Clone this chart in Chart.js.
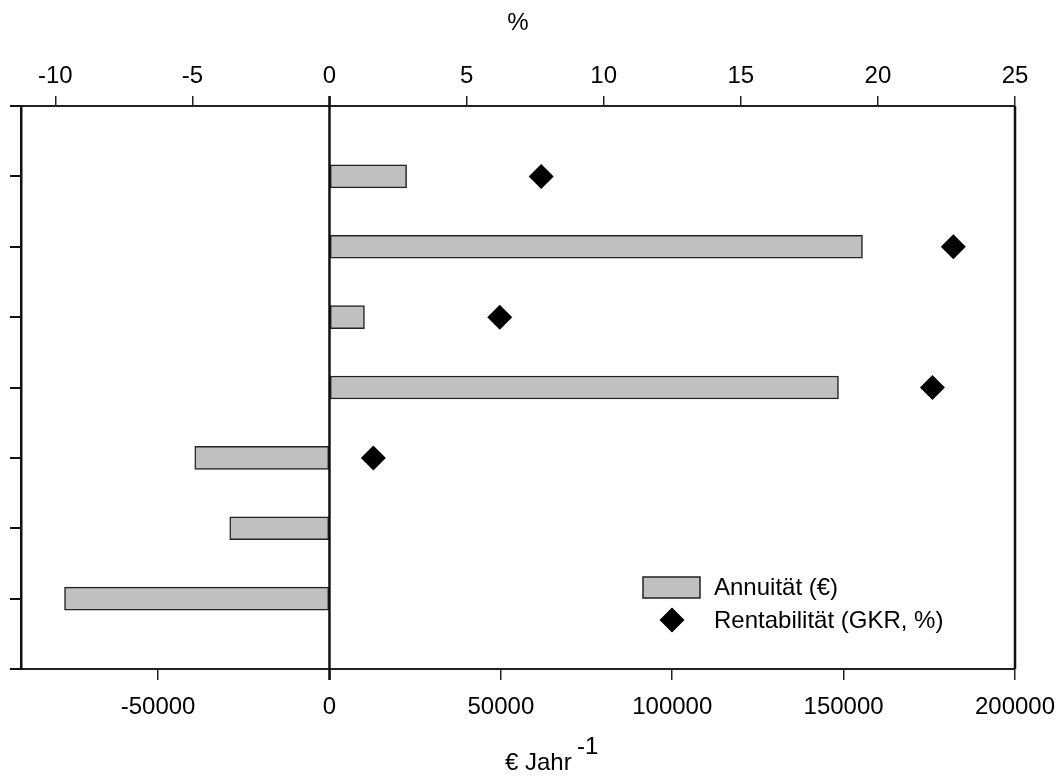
<!DOCTYPE html>
<html>
<head>
<meta charset="utf-8">
<script src="https://cdn.jsdelivr.net/npm/chart.js@4/dist/chart.umd.min.js"></script>
<style>
html,body{margin:0;padding:0;background:#fff}
#wrap{width:1058px;height:776px}
</style>
</head>
<body>
<div id="wrap"><canvas id="c"></canvas></div>
<script>
// rows from top (1) to bottom (7)
const rows=[1,2,3,4,5,6,7]
const annuity=[22500,155500,10200,148500,-39300,-29100,-77300]
const rentRows=[1,2,3,4,5]
const rentability=[7.72,22.75,6.21,21.99,1.6]
const eurTicks=[-50000,0,50000,100000,150000,200000]
const pctTicks=[-10,-5,0,5,10,15,20,25]
const rowTicks=[0,1,2,3,4,5,6,7,8]

const FONT="'Liberation Sans', Arial, sans-serif"
const tickFont={family:FONT,size:24}

const extras={
  id:"extras",
  afterDraw(ch){
    const c=ch.ctx,a=ch.chartArea,x=ch.scales.x
    c.save()
    // right frame + zero line
    c.strokeStyle="#111";c.lineWidth=2.5
    c.beginPath();c.moveTo(a.right,a.top);c.lineTo(a.right,a.bottom);c.stroke()
    const z=x.getPixelForValue(0)
    c.beginPath();c.moveTo(z,a.top-10);c.lineTo(z,a.bottom+11);c.stroke()
    // legend
    const d0=ch.data.datasets[0],d1=ch.data.datasets[1]
    c.fillStyle=d0.backgroundColor;c.fillRect(643,577,57,21)
    c.strokeStyle=d0.borderColor;c.lineWidth=1.5;c.strokeRect(643,577,57,21)
    c.fillStyle=d1.backgroundColor
    c.beginPath();c.moveTo(672-12.5,620);c.lineTo(672,620-12.5);c.lineTo(672+12.5,620);c.lineTo(672,620+12.5);c.closePath();c.fill()
    c.fillStyle="#000";c.font="24px "+FONT;c.textBaseline="middle";c.textAlign="left"
    c.fillText(d0.label,714,588)
    c.fillText(d1.label,714,621)
    // axis titles
    c.textAlign="center";c.textBaseline="alphabetic"
    c.fillText("%",518,30)
    c.textAlign="left"
    c.fillText("€ Jahr",505,770)
    c.fillText("-1",577,754)
    c.restore()
  }
}

const noPad=s=>{s.paddingLeft=0;s.paddingRight=0}

new Chart(document.getElementById("c"),{
  type:"bar",
  data:{datasets:[
    {label:"Annuität (€)",data:rows.map((r,i)=>({x:annuity[i],y:r})),
     backgroundColor:"#c0bfc2",borderColor:"#222",borderWidth:1.5,borderSkipped:false,
     barThickness:23,xAxisID:"x",yAxisID:"y"},
    {type:"scatter",label:"Rentabilität (GKR, %)",data:rentRows.map((r,i)=>({x:rentability[i],y:r})),
     backgroundColor:"#000",borderWidth:0,pointStyle:"rectRot",pointRadius:12.5,pointHoverRadius:12.5,
     xAxisID:"x2",yAxisID:"y"}
  ]},
  options:{
    indexAxis:"y",
    responsive:true,maintainAspectRatio:false,animation:false,
    layout:{padding:{left:0,right:43,top:0,bottom:0}},
    plugins:{legend:{display:false},tooltip:{enabled:false}},
    scales:{
      x:{type:"linear",position:"bottom",min:-90000,max:200000,
        afterBuildTicks:s=>{s.ticks=eurTicks.map(v=>({value:v}))},
        afterFit:s=>{s.height=107;noPad(s)},
        grid:{drawOnChartArea:false,tickLength:11,color:"#222",lineWidth:1.5},
        border:{display:true,color:"#222",width:2},
        ticks:{font:tickFont,color:"#000",padding:13,maxRotation:0,autoSkip:false,callback:v=>String(v)}},
      x2:{type:"linear",position:"top",min:-11.25,max:25,
        afterBuildTicks:s=>{s.ticks=pctTicks.map(v=>({value:v}))},
        afterFit:s=>{s.height=106;noPad(s)},
        grid:{drawOnChartArea:false,tickLength:10,color:"#222",lineWidth:1.5},
        border:{display:true,color:"#222",width:2},
        ticks:{font:tickFont,color:"#000",padding:5,maxRotation:0,autoSkip:false,callback:v=>String(v)}},
      y:{type:"linear",position:"left",min:0,max:8,reverse:true,offset:false,
        afterBuildTicks:s=>{s.ticks=rowTicks.map(v=>({value:v}))},
        afterFit:s=>{s.width=21;s.paddingTop=0;s.paddingBottom=0},
        grid:{drawOnChartArea:false,tickLength:11,color:"#111",lineWidth:2,offset:false},
        border:{display:true,color:"#111",width:2.5},
        ticks:{display:false}}
    }
  },
  plugins:[extras]
})
</script>
</body>
</html>
